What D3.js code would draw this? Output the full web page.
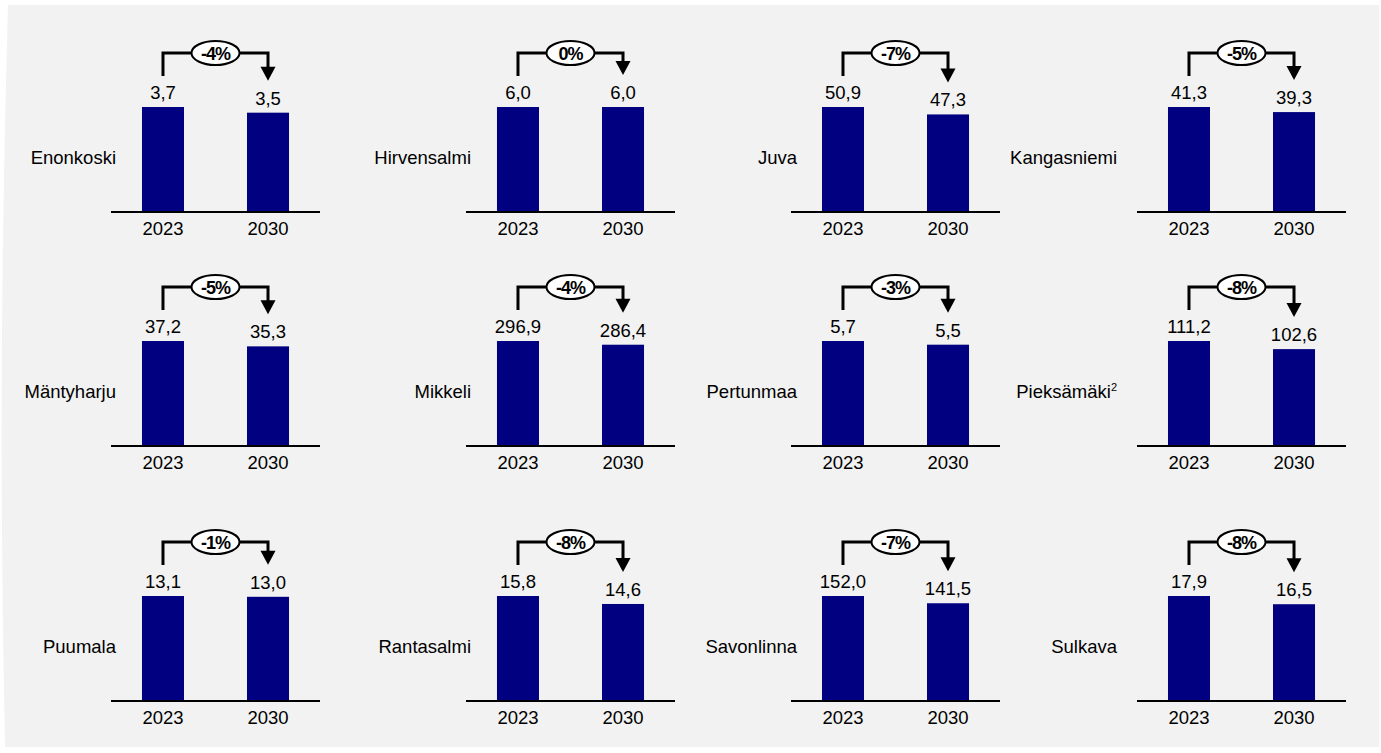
<!DOCTYPE html>
<html lang="fi">
<head>
    <meta charset="UTF-8">
    <title>Kunnat 2023–2030</title>
    <script src="https://d3js.org/d3.v7.min.js"></script>
    <style>
        body { margin: 0; background: #ffffff; }
        svg { display: block; font-family: "Liberation Sans", Arial, sans-serif; }
        .bar { fill: #000080; }
        .axis-line { stroke: #000; stroke-width: 2; }
        .name { font-size: 18.5px; fill: #000; text-anchor: end; dominant-baseline: middle; }
        .value, .year { font-size: 18.5px; fill: #000; text-anchor: middle; }
        .bracket { fill: none; stroke: #000; stroke-width: 3; }
        .change { font-size: 18px; font-weight: bold; text-anchor: middle; dominant-baseline: central; letter-spacing: -1px; }
    </style>
</head>
<body>
    <svg id="chart"></svg>

    <script>
        // Data
        const municipalities = ["Enonkoski", "Hirvensalmi", "Juva", "Kangasniemi",
            "Mäntyharju", "Mikkeli", "Pertunmaa", "Pieksämäki",
            "Puumala", "Rantasalmi", "Savonlinna", "Sulkava"];
        const footnotes = ["", "", "", "", "", "", "", "2", "", "", "", ""];
        const years = ["2023", "2030"];
        const values2023 = [3.7, 6.0, 50.9, 41.3, 37.2, 296.9, 5.7, 111.2, 13.1, 15.8, 152.0, 17.9];
        const values2030 = [3.5, 6.0, 47.3, 39.3, 35.3, 286.4, 5.5, 102.6, 13.0, 14.6, 141.5, 16.5];
        const changes = ["-4%", "0%", "-7%", "-5%", "-5%", "-4%", "-3%", "-8%", "-1%", "-8%", "-7%", "-8%"];

        // Layout
        const width = 1381;
        const height = 753;
        const colX = [111, 466, 791, 1137];      // left end of each axis line
        const labelX = [116, 471, 797, 1117];    // right edge of the names
        const rowBase = [212, 446, 701];         // baseline of each row
        const axisLen = 209;
        const barMax = 105;

        const fmt = d3.formatLocale({ decimal: ",", thousands: " ", grouping: [3], currency: ["", "€"] }).format(".1f");

        const svg = d3.select("#chart")
            .attr("width", width)
            .attr("height", height);

        // Grey panel
        svg.append("path")
            .attr("d", "M8,5 L1379,5 L1379,747 L5,747 Q-3,376 8,5 Z")
            .attr("fill", "#f2f2f2");

        municipalities.forEach((name, i) => {
            const col = i % 4;
            const row = Math.floor(i / 4);
            const x0 = colX[col];
            const base = rowBase[row];
            const vals = [values2023[i], values2030[i]];

            const x = d3.scaleBand()
                .domain(years)
                .range([x0, x0 + axisLen])
                .paddingInner(0.6)
                .paddingOuter(0.295);

            const y = d3.scaleLinear()
                .domain([0, d3.max(vals)])
                .range([base, base - barMax]);

            const g = svg.append("g");

            // Bars
            g.selectAll(".bar")
                .data(years)
                .enter()
                .append("rect")
                .attr("class", "bar")
                .attr("x", d => x(d))
                .attr("width", x.bandwidth())
                .attr("y", (d, j) => y(vals[j]))
                .attr("height", (d, j) => base - y(vals[j]));

            // Axis line
            g.append("line")
                .attr("class", "axis-line")
                .attr("x1", x0).attr("x2", x0 + axisLen)
                .attr("y1", base).attr("y2", base);

            // Year labels
            g.selectAll(".year")
                .data(years)
                .enter()
                .append("text")
                .attr("class", "year")
                .attr("x", d => x(d) + x.bandwidth() / 2)
                .attr("y", base + 23)
                .text(d => d);

            // Value labels
            g.selectAll(".value")
                .data(years)
                .enter()
                .append("text")
                .attr("class", "value")
                .attr("x", d => x(d) + x.bandwidth() / 2)
                .attr("y", (d, j) => y(vals[j]) - 8)
                .text((d, j) => fmt(vals[j]));

            // Municipality name
            const label = g.append("text")
                .attr("class", "name")
                .attr("x", labelX[col])
                .attr("y", base - 53)
                .text(name);
            if (footnotes[i]) {
                label.append("tspan")
                    .attr("font-size", "11px")
                    .attr("dy", "-5")
                    .text(footnotes[i]);
            }

            // Change bracket
            const cx1 = x(years[0]) + x.bandwidth() / 2;
            const cx2 = x(years[1]) + x.bandwidth() / 2;
            const top = y(d3.max(vals)) - 54;
            const tip = y(vals[1]) - 32;
            g.append("path")
                .attr("class", "bracket")
                .attr("d", `M${cx1},${y(vals[0]) - 31} V${top} H${cx2} V${tip - 12}`);
            g.append("path")
                .attr("d", `M${cx2 - 7.5},${tip - 14} L${cx2 + 7.5},${tip - 14} L${cx2},${tip} Z`)
                .attr("fill", "#000");

            const mid = (cx1 + cx2) / 2;
            g.append("ellipse")
                .attr("cx", mid)
                .attr("cy", top)
                .attr("rx", 24)
                .attr("ry", 12)
                .attr("fill", "#fff")
                .attr("stroke", "#000")
                .attr("stroke-width", 2);
            g.append("text")
                .attr("class", "change")
                .attr("x", mid)
                .attr("y", top + 1)
                .text(changes[i]);
        });
    </script>
</body>
</html>
